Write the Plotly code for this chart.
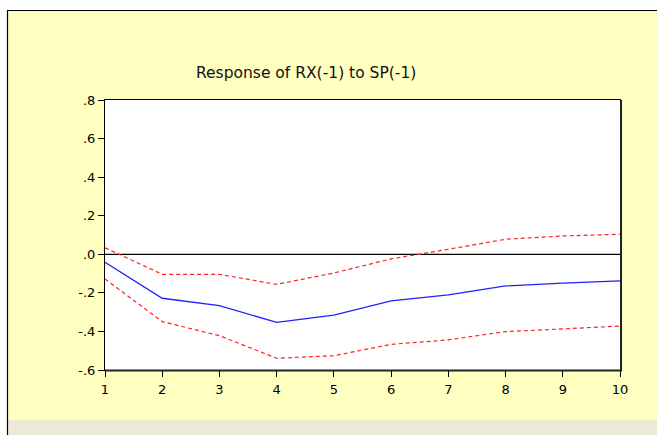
import plotly.graph_objects as go

periods = [1, 2, 3, 4, 5, 6, 7, 8, 9, 10]
response = [-0.041, -0.228, -0.266, -0.353, -0.315, -0.242, -0.211, -0.164, -0.150, -0.138]
upper_band = [0.034, -0.104, -0.104, -0.156, -0.097, -0.024, 0.026, 0.078, 0.095, 0.104]
lower_band = [-0.128, -0.349, -0.422, -0.539, -0.526, -0.467, -0.444, -0.401, -0.387, -0.372]
y_ticks = [0.8, 0.6, 0.4, 0.2, 0.0, -0.2, -0.4, -0.6]
y_tick_labels = [".8", ".6", ".4", ".2", ".0", "-.2", "-.4", "-.6"]
title_text = "Response of RX(-1) to SP(-1)"

W, H = 657, 435
L, R, T, B = 105, 37, 100, 65
pw, ph = W - L - R, H - T - B

def px_x(p):
    return (p - L) / pw

def px_y(p):
    return (H - B - p) / ph

fig = go.Figure()
fig.add_trace(go.Scatter(x=periods, y=upper_band, mode="lines",
                         line=dict(color="#FF2020", width=1.2, dash="4px,3px"),
                         showlegend=False, hoverinfo="skip"))
fig.add_trace(go.Scatter(x=periods, y=lower_band, mode="lines",
                         line=dict(color="#FF2020", width=1.2, dash="4px,3px"),
                         showlegend=False, hoverinfo="skip"))
fig.add_trace(go.Scatter(x=periods, y=response, mode="lines",
                         line=dict(color="#2020FF", width=1.3),
                         showlegend=False, hoverinfo="skip"))

shapes = [
    dict(type="rect", xref="paper", yref="paper", x0=px_x(0), x1=px_x(W), y0=px_y(10), y1=px_y(0),
         fillcolor="white", line=dict(width=0), layer="below"),
    dict(type="rect", xref="paper", yref="paper", x0=px_x(0), x1=px_x(7), y0=px_y(H), y1=px_y(0),
         fillcolor="white", line=dict(width=0), layer="below"),
    dict(type="rect", xref="paper", yref="paper", x0=px_x(7), x1=px_x(W), y0=px_y(H), y1=px_y(420),
         fillcolor="#ECE9D8", line=dict(width=0), layer="below"),
    dict(type="line", xref="paper", yref="paper", x0=px_x(7.5), x1=px_x(7.5), y0=px_y(H), y1=px_y(10),
         line=dict(color="black", width=1.2)),
    dict(type="line", xref="paper", yref="paper", x0=px_x(7), x1=px_x(W), y0=px_y(10.5), y1=px_y(10.5),
         line=dict(color="black", width=1.2)),
    dict(type="line", xref="x", yref="y", x0=1, x1=10, y0=0, y1=0,
         line=dict(color="black", width=1.2), layer="below"),
    dict(type="line", xref="paper", yref="paper", x0=1.002, x1=1.002, y0=-0.004, y1=1,
         line=dict(color="#222222", width=2)),
    dict(type="line", xref="paper", yref="paper", x0=0, x1=1.004, y0=-0.002, y1=-0.002,
         line=dict(color="#222222", width=2)),
]

fig.update_layout(
    width=W, height=H,
    margin=dict(l=L, r=R, t=T, b=B),
    paper_bgcolor="#FFFFC0",
    plot_bgcolor="white",
    shapes=shapes,
    font=dict(family="DejaVu Sans, Arial, sans-serif", size=13, color="black"),
    annotations=[dict(text=title_text, xref="paper", yref="paper",
                      x=px_x(306), y=px_y(73), xanchor="center", yanchor="middle",
                      showarrow=False, font=dict(size=15.5, color="#111111"))],
    xaxis=dict(range=[1, 10], tickvals=periods, ticktext=[str(p) for p in periods],
               showgrid=False, zeroline=False, showline=True, linecolor="black", linewidth=1,
               mirror=True, ticks="outside", ticklen=6, tickcolor="black", ticklabelstandoff=1),
    yaxis=dict(range=[-0.6, 0.8], tickvals=y_ticks, ticktext=y_tick_labels,
               showgrid=False, zeroline=False, showline=True, linecolor="black", linewidth=1,
               mirror=True, ticks="outside", ticklen=6, tickcolor="black"),
)

fig.write_html("out.html")
